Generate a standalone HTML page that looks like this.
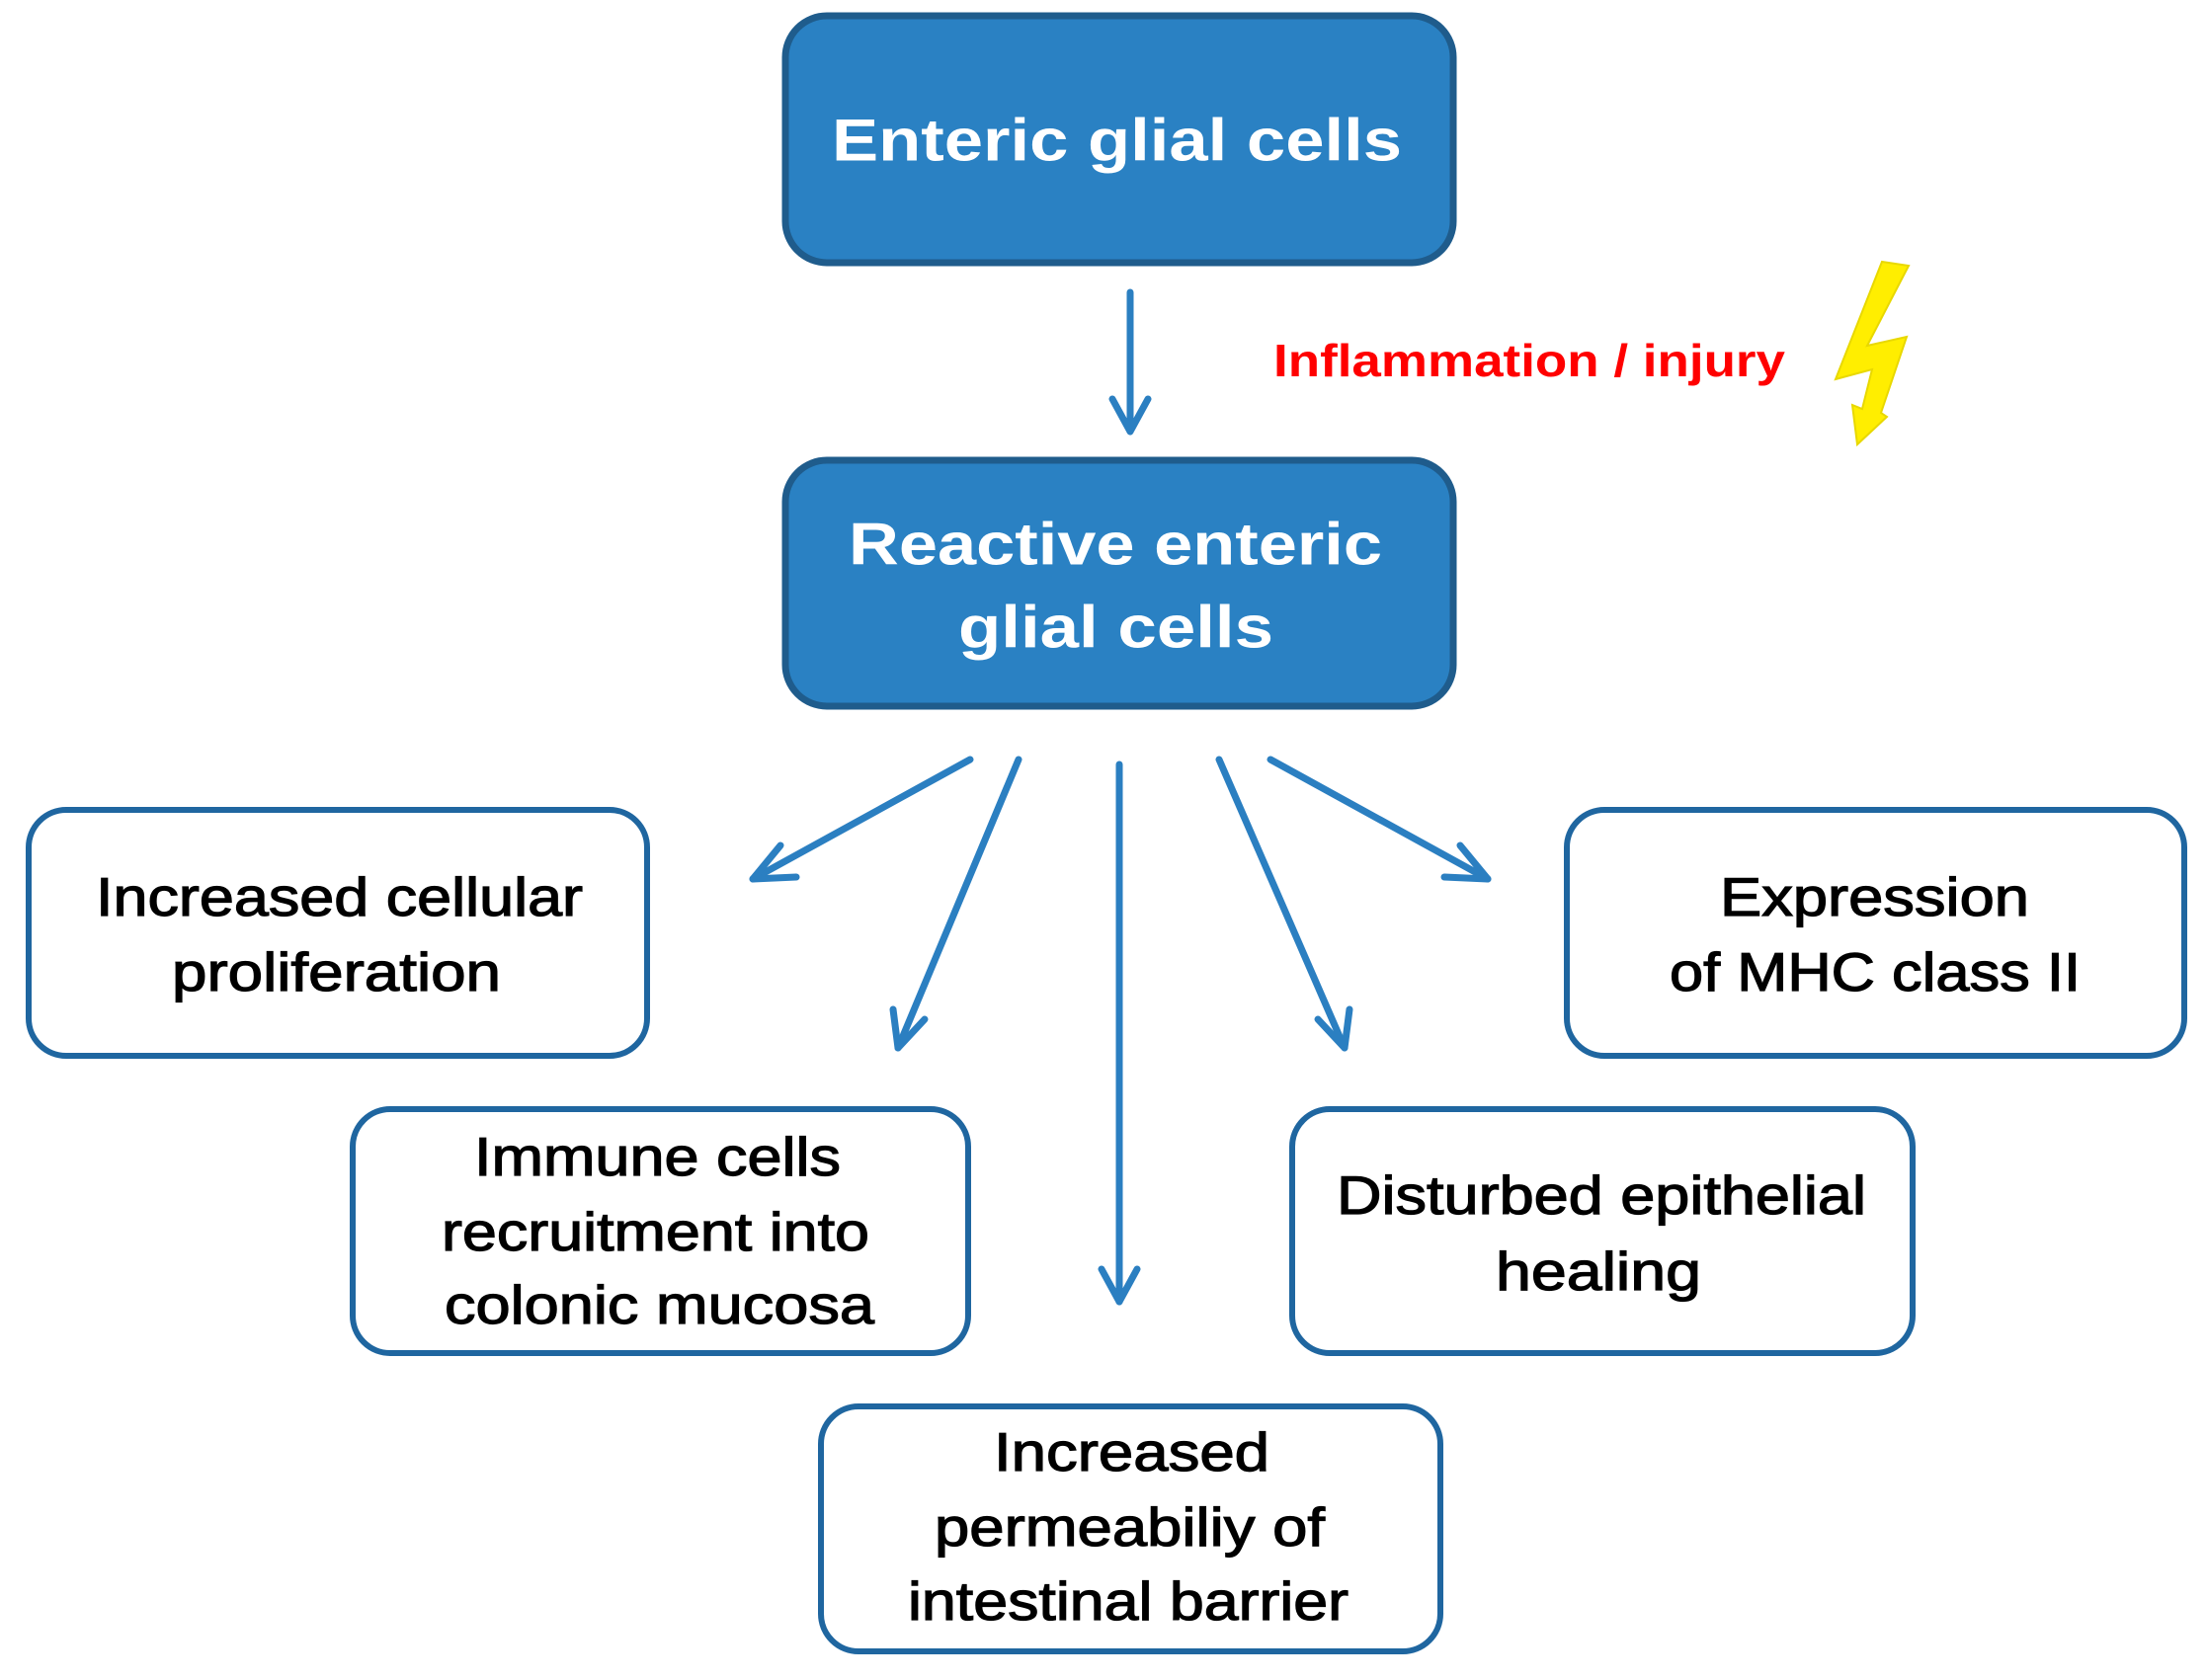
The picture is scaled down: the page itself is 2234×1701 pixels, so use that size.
<!DOCTYPE html>
<html><head><meta charset="utf-8"><style>html,body{margin:0;padding:0;background:#fff}svg{display:block}</style></head>
<body>
<svg width="2234" height="1701" viewBox="0 0 2234 1701" xmlns="http://www.w3.org/2000/svg">
<g fill="#2a81c3" stroke="#1f5c8c" stroke-width="7">
<rect x="795" y="16" width="676" height="250" rx="42"/>
<rect x="795" y="466" width="676" height="249" rx="42"/>
</g>
<g fill="#fff" stroke="#1f66a0" stroke-width="6">
<rect x="29" y="820" width="626" height="249" rx="38"/>
<rect x="1586" y="820" width="625" height="249" rx="38"/>
<rect x="357" y="1123" width="623" height="247" rx="38"/>
<rect x="1308" y="1123" width="628" height="247" rx="38"/>
<rect x="831" y="1424" width="627" height="248" rx="38"/>
</g>
<g stroke="#2b7fc1" stroke-width="7" fill="none" stroke-linecap="round" stroke-linejoin="round">
<path d="M1144 296 L1144 437 M1126 404 L1144 437 L1162 404"/>
<path d="M982 769 L762 890"/>
<path d="M1031 769 L909 1061"/>
<path d="M1133 774 L1133 1318"/>
<path d="M1234 769 L1361 1061"/>
<path d="M1286 769 L1506 890"/>
<path d="M790 856 L762 890 L806 888"/>
<path d="M904 1022 L909 1061 L936 1032"/>
<path d="M1115 1285 L1133 1318 L1151 1285"/>
<path d="M1334 1032 L1361 1061 L1366 1022"/>
<path d="M1462 888 L1506 890 L1478 856"/>
</g>
<polygon points="1905,265 1932,269 1890,350 1930,341 1904,418 1910,422 1880,450 1875,410 1885,414 1895,374 1858,384" fill="#ffee00" stroke="#e8d800" stroke-width="2"/>
<g font-family="Liberation Sans, Arial, sans-serif" font-weight="bold" fill="#fff" font-size="60" dominant-baseline="central">
<text x="842" y="142" textLength="577" lengthAdjust="spacingAndGlyphs">Enteric glial cells</text>
<text x="859" y="551" textLength="540" lengthAdjust="spacingAndGlyphs">Reactive enteric</text>
<text x="970" y="635" textLength="319" lengthAdjust="spacingAndGlyphs">glial cells</text>
</g>
<text x="1289" y="365" font-family="Liberation Sans, Arial, sans-serif" font-weight="bold" fill="#ff0000" font-size="46" dominant-baseline="central" textLength="518" lengthAdjust="spacingAndGlyphs">Inflammation / injury</text>
<g font-family="Liberation Sans, Arial, sans-serif" fill="#000" stroke="#000" stroke-width="1.2" font-size="55" dominant-baseline="central">
<text x="97" y="908" textLength="493" lengthAdjust="spacingAndGlyphs">Increased cellular</text>
<text x="174" y="984" textLength="333" lengthAdjust="spacingAndGlyphs">proliferation</text>
<text x="1741" y="908" textLength="313" lengthAdjust="spacingAndGlyphs">Expression</text>
<text x="1690" y="984" textLength="416" lengthAdjust="spacingAndGlyphs">of MHC class II</text>
<text x="480" y="1171" textLength="371" lengthAdjust="spacingAndGlyphs">Immune cells</text>
<text x="447" y="1247" textLength="433" lengthAdjust="spacingAndGlyphs">recruitment into</text>
<text x="450" y="1321" textLength="435" lengthAdjust="spacingAndGlyphs">colonic mucosa</text>
<text x="1353" y="1210" textLength="536" lengthAdjust="spacingAndGlyphs">Disturbed epithelial</text>
<text x="1514" y="1287" textLength="208" lengthAdjust="spacingAndGlyphs">healing</text>
<text x="1006" y="1470" textLength="279" lengthAdjust="spacingAndGlyphs">Increased</text>
<text x="946" y="1546" textLength="395" lengthAdjust="spacingAndGlyphs">permeabiliy of</text>
<text x="919" y="1621" textLength="446" lengthAdjust="spacingAndGlyphs">intestinal barrier</text>
</g>
</svg>
</body></html>
